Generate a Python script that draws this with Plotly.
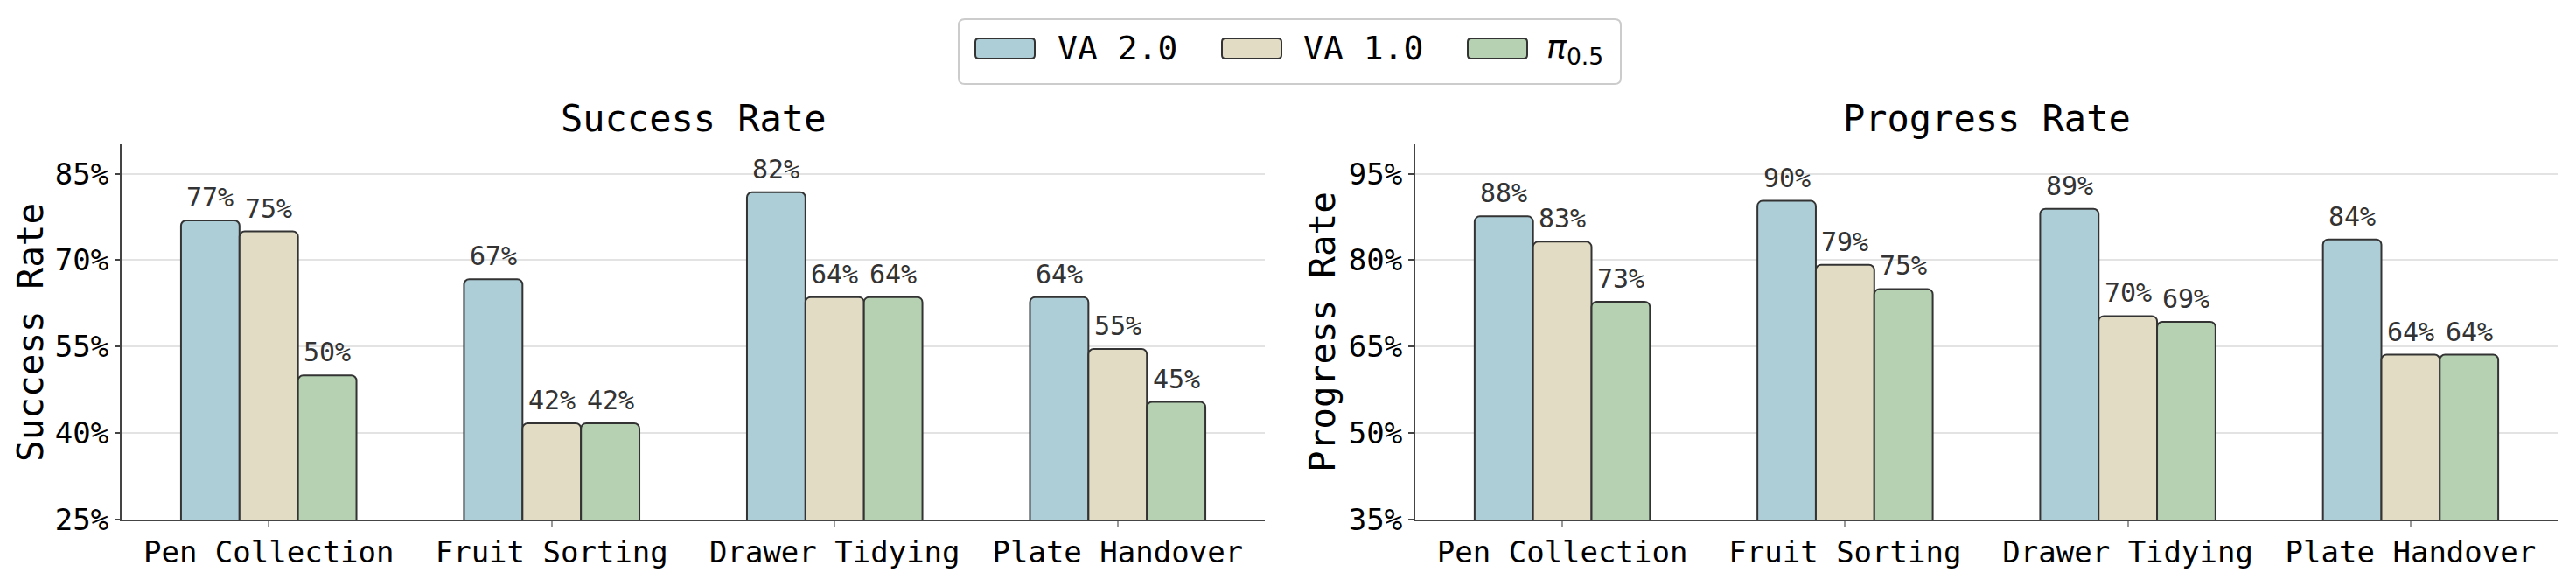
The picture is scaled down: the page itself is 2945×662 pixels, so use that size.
import plotly.graph_objects as go

# ---------------- data ----------------
tasks = ["Pen Collection", "Fruit Sorting", "Drawer Tidying", "Plate Handover"]
series_names = ["VA 2.0", "VA 1.0", "π0.5"]

success_va2 = [76.9, 66.7, 81.8, 63.6]
success_va1 = [75.0, 41.7, 63.6, 54.6]
success_pi = [50.0, 41.7, 63.6, 45.4]

progress_va2 = [87.6, 90.3, 88.9, 83.6]
progress_va1 = [83.2, 79.2, 70.3, 63.6]
progress_pi = [72.8, 75.0, 69.3, 63.6]

success_ticks = [25, 40, 55, 70, 85]
progress_ticks = [35, 50, 65, 80, 95]

# ---------------- style ----------------
W, H = 2945, 662
colors = ["#ADCDD7", "#E3DCC4", "#B5D1B2"]
EDGE = "#333333"
MONO = "DejaVu Sans Mono"
BAR_PX = 66.8  # pixel width of one bar (used only to offset value labels)


def X(px):
    return px / W


def Y(py):
    return 1 - py / H


fig = go.Figure()

panels = [
    dict(xa="x", ya="y", data=[success_va2, success_va1, success_pi]),
    dict(xa="x2", ya="y2", data=[progress_va2, progress_va1, progress_pi]),
]

annotations = []
for p in panels:
    for j, (name, vals, col) in enumerate(zip(series_names, p["data"], colors)):
        fig.add_trace(go.Bar(
            x=tasks, y=vals, name=name,
            xaxis=p["xa"], yaxis=p["ya"],
            marker=dict(color=col, line=dict(color=EDGE, width=2)),
            showlegend=False,
            hoverinfo="skip",
        ))
        for t, v in zip(tasks, vals):
            annotations.append(dict(
                text=f"{v:.0f}%", x=t, y=v, xref=p["xa"], yref=p["ya"],
                xshift=(j - 1) * BAR_PX, yshift=7,
                showarrow=False, xanchor="center", yanchor="bottom",
                font=dict(family=MONO, size=30, color="#333333"),
            ))

plot_top, plot_bot = 165, 594
ydom = [Y(plot_bot), Y(plot_top)]

common_x = dict(
    type="category", range=[-0.52, 3.52],
    showline=True, linecolor="#444444", linewidth=2,
    ticks="outside", ticklen=6, tickwidth=1.5, tickcolor="#999999",
    tickfont=dict(family=MONO, size=34, color="black"),
    showgrid=False, zeroline=False,
)
common_y = dict(
    showline=True, linecolor="#444444", linewidth=2,
    ticks="outside", ticklen=6, tickwidth=2, tickcolor="#444444",
    tickfont=dict(family=MONO, size=34, color="black"),
    showgrid=True, gridcolor="#e3e3e3", gridwidth=1.5,
    zeroline=False,
)

fig.update_layout(
    width=W, height=H,
    template="none",
    paper_bgcolor="white", plot_bgcolor="white",
    margin=dict(l=0, r=0, t=0, b=0),
    barmode="group", bargap=0.38, bargroupgap=0,
    barcornerradius=6,
    showlegend=False,
    xaxis=dict(domain=[X(139), X(1446)], anchor="y", **common_x),
    xaxis2=dict(domain=[X(1618), X(2924)], anchor="y2", **common_x),
    yaxis=dict(domain=ydom, anchor="x", range=[25, 90.1],
               tickvals=success_ticks, ticktext=[f"{v}%" for v in success_ticks], **common_y),
    yaxis2=dict(domain=ydom, anchor="x2", range=[35, 100.1],
                tickvals=progress_ticks, ticktext=[f"{v}%" for v in progress_ticks], **common_y),
)

# panel titles
for txt, cx in [("Success Rate", 792.5), ("Progress Rate", 2271)]:
    annotations.append(dict(text=txt, x=X(cx), y=Y(135), xref="paper", yref="paper",
                            showarrow=False, xanchor="center", yanchor="middle",
                            font=dict(family=MONO, size=42, color="black")))
# y-axis titles
for txt, cx in [("Success Rate", 35), ("Progress Rate", 1512)]:
    annotations.append(dict(text=txt, x=X(cx), y=Y(380), xref="paper", yref="paper",
                            showarrow=False, xanchor="center", yanchor="middle", textangle=-90,
                            font=dict(family=MONO, size=41, color="black")))


def rrect(x0, y0, x1, y1, r):
    # rounded rectangle path in paper coords, given pixel coords
    return (
        f"M {X(x0 + r)},{Y(y0)} L {X(x1 - r)},{Y(y0)} Q {X(x1)},{Y(y0)} {X(x1)},{Y(y0 + r)} "
        f"L {X(x1)},{Y(y1 - r)} Q {X(x1)},{Y(y1)} {X(x1 - r)},{Y(y1)} "
        f"L {X(x0 + r)},{Y(y1)} Q {X(x0)},{Y(y1)} {X(x0)},{Y(y1 - r)} "
        f"L {X(x0)},{Y(y0 + r)} Q {X(x0)},{Y(y0)} {X(x0 + r)},{Y(y0)} Z"
    )


shapes = []
# legend frame
shapes.append(dict(type="path", xref="paper", yref="paper", path=rrect(1096, 22, 1853, 96, 7),
                   line=dict(color="#cccccc", width=2), fillcolor="white", layer="above"))
legend_items = [
    (1115, 1207, "VA 2.0", MONO),
    (1397, 1488, "VA 1.0", MONO),
    (1678, 1766, "<i>π</i><sub>0.5</sub>", "DejaVu Sans"),
]
for (sx, tx, label, fam), col in zip(legend_items, colors):
    shapes.append(dict(type="path", xref="paper", yref="paper", path=rrect(sx, 44, sx + 68, 67, 4),
                       line=dict(color=EDGE, width=2), fillcolor=col, layer="above"))
    annotations.append(dict(text=label, x=X(tx), y=Y(55.5), xref="paper", yref="paper",
                            showarrow=False, xanchor="left", yanchor="middle",
                            font=dict(family=fam, size=38, color="black")))

fig.update_layout(annotations=annotations, shapes=shapes)

fig.write_html("out.html")
